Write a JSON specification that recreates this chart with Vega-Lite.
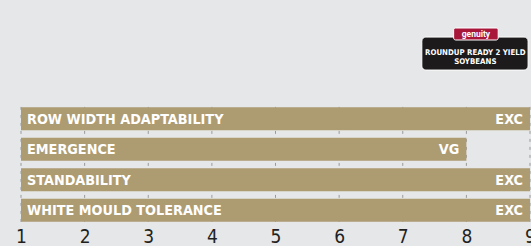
{
  "$schema": "https://vega.github.io/schema/vega-lite/v6.json",
  "width": 509,
  "height": 226,
  "autosize": {"type": "none"},
  "padding": {"left": 21, "top": 0, "right": 1, "bottom": 20},
  "background": "#e6e7e9",
  "config": {"view": {"stroke": null}},
  "datasets": {
    "ratings": [
      {"attribute": "ROW WIDTH ADAPTABILITY", "score": 9, "rating": "EXC"},
      {"attribute": "EMERGENCE", "score": 8, "rating": "VG"},
      {"attribute": "STANDABILITY", "score": 9, "rating": "EXC"},
      {"attribute": "WHITE MOULD TOLERANCE", "score": 9, "rating": "EXC"}
    ],
    "ticks": [{"t": 1}, {"t": 2}, {"t": 3}, {"t": 4}, {"t": 5}, {"t": 6}, {"t": 7}, {"t": 8}, {"t": 9}]
  },
  "resolve": {"scale": {"y": "independent"}},
  "layer": [
    {
      "data": {"name": "ticks"},
      "mark": {"type": "rule", "color": "#9a9a9a", "strokeDash": [3, 5], "strokeWidth": 1},
      "encoding": {
        "x": {"field": "t", "type": "quantitative", "scale": {"domain": [1, 9]}},
        "y": {"datum": 5.27, "type": "quantitative", "scale": {"domain": [0, 10]}, "axis": null},
        "y2": {"datum": 0.18}
      }
    },
    {
      "data": {"name": "ratings"},
      "layer": [
        {
          "mark": {"type": "bar", "color": "#ad9b72"},
          "encoding": {
            "x": {"field": "score", "type": "quantitative", "scale": {"domain": [1, 9]},
              "axis": {"values": [1, 2, 3, 4, 5, 6, 7, 8, 9], "format": "d", "title": null, "domain": false, "ticks": false, "grid": false,
                "labelFont": "DejaVu Sans Condensed, Roboto", "labelFontSize": 19, "labelColor": "#231f20", "labelPadding": 1, "labelFlush": false, "labelOverlap": false}},
            "x2": {"datum": 1}
          }
        },
        {
          "mark": {"type": "text", "align": "left", "baseline": "middle", "dx": 6, "dy": 1, "font": "DejaVu Sans Condensed, Roboto", "fontWeight": "bold", "fontSize": 14.3, "color": "#ffffff"},
          "encoding": {
            "x": {"datum": 1},
            "text": {"field": "attribute"}
          }
        },
        {
          "mark": {"type": "text", "align": "right", "baseline": "middle", "dx": -7, "dy": 1, "font": "DejaVu Sans Condensed, Roboto", "fontWeight": "bold", "fontSize": 14.3, "color": "#ffffff"},
          "encoding": {
            "x": {"field": "score", "type": "quantitative"},
            "text": {"field": "rating"}
          }
        }
      ],
      "encoding": {
        "y": {"field": "attribute", "type": "nominal", "sort": null, "axis": null,
          "scale": {"range": [103.5, 225.5], "paddingInner": 0.25, "paddingOuter": 0.125}}
      }
    },
    {
      "data": {"values": [{"part": "badge"}]},
      "layer": [
        {
          "mark": {"type": "rect", "color": "#1c1a1b", "stroke": "#ffffff", "strokeWidth": 1, "cornerRadius": 4},
          "encoding": {
            "x": {"datum": 7.3}, "x2": {"datum": 8.97},
            "y": {"datum": 8.36, "type": "quantitative", "scale": {"domain": [0, 10]}, "axis": null}, "y2": {"datum": 6.9}
          }
        },
        {
          "mark": {"type": "rect", "color": "#a8163a", "stroke": "#ffffff", "strokeWidth": 1, "cornerRadius": 2},
          "encoding": {
            "x": {"datum": 7.8}, "x2": {"datum": 8.5},
            "y": {"datum": 8.76, "type": "quantitative", "scale": {"domain": [0, 10]}, "axis": null}, "y2": {"datum": 8.23}
          }
        },
        {
          "mark": {"type": "text", "text": "genuity", "align": "center", "baseline": "middle", "font": "Roboto", "fontWeight": "bold", "fontSize": 8.5, "color": "#ffffff"},
          "encoding": {
            "x": {"datum": 8.15},
            "y": {"datum": 8.5, "type": "quantitative", "scale": {"domain": [0, 10]}, "axis": null}
          }
        },
        {
          "mark": {"type": "text", "text": "ROUNDUP READY 2 YIELD", "align": "center", "baseline": "middle", "font": "DejaVu Sans Condensed, Roboto", "fontWeight": "bold", "fontSize": 7.8, "color": "#ffffff"},
          "encoding": {
            "x": {"datum": 8.14},
            "y": {"datum": 7.66, "type": "quantitative", "scale": {"domain": [0, 10]}, "axis": null}
          }
        },
        {
          "mark": {"type": "text", "text": "SOYBEANS", "align": "center", "baseline": "middle", "font": "DejaVu Sans Condensed, Roboto", "fontWeight": "bold", "fontSize": 7.8, "color": "#ffffff"},
          "encoding": {
            "x": {"datum": 8.14},
            "y": {"datum": 7.26, "type": "quantitative", "scale": {"domain": [0, 10]}, "axis": null}
          }
        }
      ]
    }
  ]
}
